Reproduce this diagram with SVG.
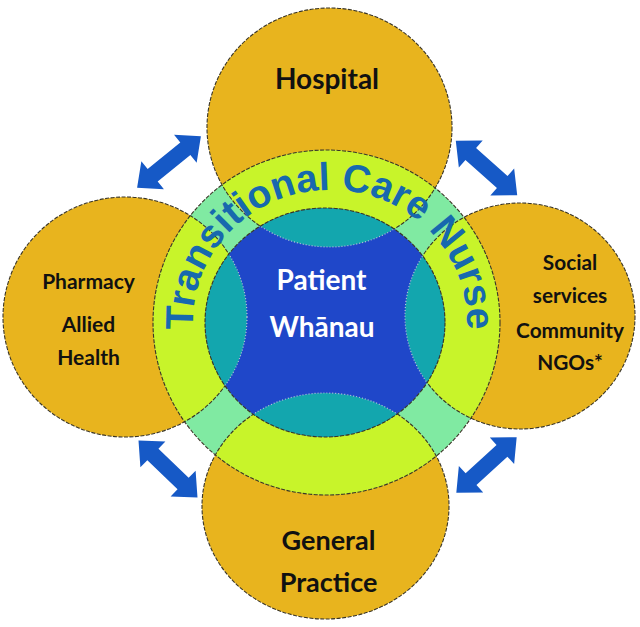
<svg xmlns="http://www.w3.org/2000/svg" xmlns:xlink="http://www.w3.org/1999/xlink" width="640" height="627" viewBox="0 0 640 627">
<defs>
<style>
.orange{fill:#E8B41E}
.lime{fill:#C8F42A}
.mint{fill:#80EAA2}
.teal{fill:#13A6AE}
.blue{fill:#1F47C9}
.edge{fill:none;stroke:#3a3526;stroke-width:1.1;stroke-dasharray:4 1.5}
.dots{fill:none;stroke:#b8c4d8;stroke-width:1.2;stroke-dasharray:1 2}
.lbl{font-family:Lato,"Open Sans","Liberation Sans",sans-serif;font-weight:700;fill:#111;text-anchor:middle}
.inner-lbl{font-family:Lato,"Open Sans","Liberation Sans",sans-serif;font-weight:700;fill:#fff;text-anchor:middle;font-size:28px}
.arc{font-family:"Liberation Sans",Arial,sans-serif;font-weight:700;fill:#1769AE;font-size:39px}
.arrow{fill:#1659C6}
</style>
<ellipse id="eH" cx="329.5" cy="127.5" rx="122.5" ry="119.5"/>
<ellipse id="eP" cx="125" cy="317" rx="122" ry="120"/>
<ellipse id="eS" cx="520" cy="316" rx="115" ry="113"/>
<ellipse id="eG" cx="325.5" cy="506" rx="123.5" ry="113"/>
<ellipse id="eR" cx="326.5" cy="322.5" rx="173.5" ry="172.5"/>
<ellipse id="eI" cx="325" cy="322.5" rx="120" ry="114.5"/>
<clipPath id="clipRing"><use xlink:href="#eR"/></clipPath>
<clipPath id="clipInner"><use xlink:href="#eI"/></clipPath>
<polygon id="dblArrow" points="-41,0 -21,-18 -21,-8 21,-8 21,-18 41,0 21,18 21,8 -21,8 -21,18"/>
<path id="arcPath" d="M 197.7 356.2 A 137 132 0 1 1 462.3 356.2"/>
</defs>
<rect width="640" height="627" fill="#fff"/>

<g id="connectors">
<use xlink:href="#dblArrow" class="arrow" transform="translate(169,162) rotate(-38.9)"/>
<use xlink:href="#dblArrow" class="arrow" transform="translate(486.5,168) rotate(41.5)"/>
<use xlink:href="#dblArrow" class="arrow" transform="translate(168,469) rotate(44)"/>
<use xlink:href="#dblArrow" class="arrow" transform="translate(486.5,465) rotate(-42.6)"/>
</g>

<g id="hospital">
<use xlink:href="#eH" class="orange"/>
<use xlink:href="#eH" class="edge"/>
<text class="lbl" x="327" y="89" font-size="28">Hospital</text>
</g>

<g id="pharmacy">
<use xlink:href="#eP" class="orange"/>
<use xlink:href="#eP" class="edge"/>
<text class="lbl" x="88.5" y="289" font-size="21">Pharmacy</text>
<text class="lbl" x="88.5" y="332" font-size="21">Allied</text>
<text class="lbl" x="88.5" y="365" font-size="21">Health</text>
</g>

<g id="social">
<use xlink:href="#eS" class="orange"/>
<use xlink:href="#eS" class="edge"/>
<text class="lbl" x="570" y="270" font-size="20.8">Social</text>
<text class="lbl" x="570" y="303" font-size="20.8">services</text>
<text class="lbl" x="570" y="337.5" font-size="20.8">Community</text>
<text class="lbl" x="570" y="370" font-size="20.8">NGOs*</text>
</g>

<g id="general-practice">
<use xlink:href="#eG" class="orange"/>
<use xlink:href="#eG" class="edge"/>
<text class="lbl" x="328.5" y="550" font-size="27">General</text>
<text class="lbl" x="328.5" y="592" font-size="27">Practice</text>
</g>

<g id="transitional-care-nurse">
<use xlink:href="#eR" class="mint"/>
<g clip-path="url(#clipRing)">
<use xlink:href="#eH" class="lime"/>
<use xlink:href="#eP" class="lime"/>
<use xlink:href="#eS" class="lime"/>
<use xlink:href="#eG" class="lime"/>
<use xlink:href="#eH" class="edge"/>
<use xlink:href="#eP" class="edge"/>
<use xlink:href="#eS" class="edge"/>
<use xlink:href="#eG" class="edge"/>
</g>
<use xlink:href="#eR" class="edge"/>
<text class="arc"><textPath xlink:href="#arcPath" startOffset="50%" text-anchor="middle">Transitional Care Nurse</textPath></text>
</g>

<g id="patient-whanau">
<use xlink:href="#eI" class="blue"/>
<g clip-path="url(#clipInner)">
<use xlink:href="#eH" class="teal"/>
<use xlink:href="#eP" class="teal"/>
<use xlink:href="#eS" class="teal"/>
<use xlink:href="#eG" class="teal"/>
<use xlink:href="#eH" class="dots"/>
<use xlink:href="#eP" class="dots"/>
<use xlink:href="#eS" class="dots"/>
<use xlink:href="#eG" class="dots"/>
</g>
<use xlink:href="#eI" class="edge"/>
<text class="inner-lbl" x="321.5" y="290">Patient</text>
<text class="inner-lbl" x="322" y="336.5">Whānau</text>
</g>
</svg>
